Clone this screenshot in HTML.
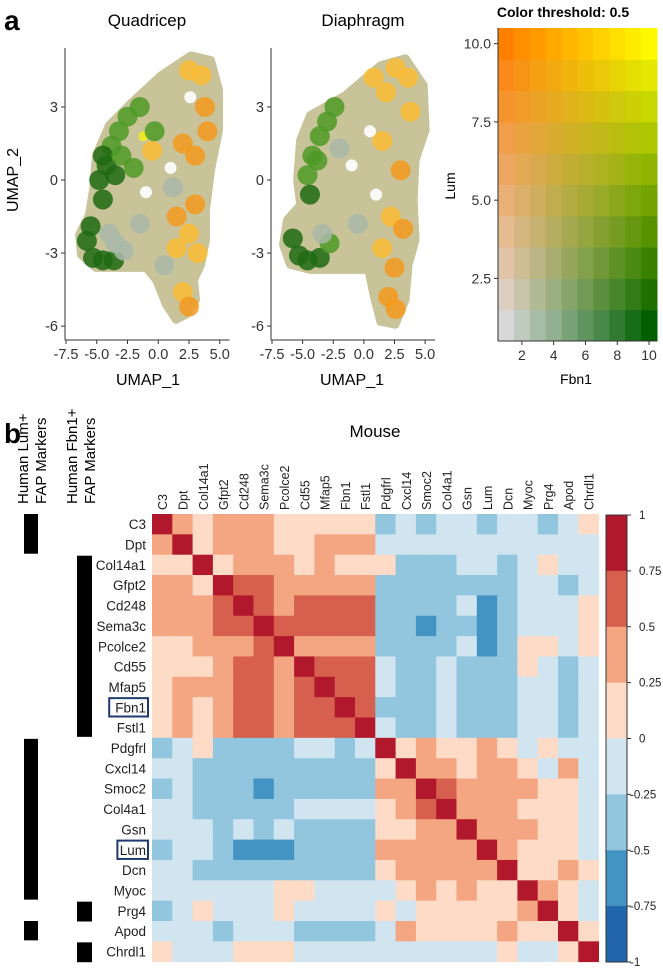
<!DOCTYPE html>
<html><head><meta charset="utf-8">
<style>
html,body{margin:0;padding:0;background:#fff;}
svg{display:block;font-family:"Liberation Sans",Arial,sans-serif;}
</style></head>
<body>
<svg id="fig" width="663" height="968" viewBox="0 0 663 968" xmlns="http://www.w3.org/2000/svg">
<text x="4" y="30" font-size="28" font-weight="bold">a</text>
<text x="147" y="26" font-size="17" text-anchor="middle">Quadricep</text>
<text x="363" y="26" font-size="17" text-anchor="middle">Diaphragm</text>
<text x="18" y="180" font-size="16" text-anchor="middle" transform="rotate(-90 18 180)">UMAP_2</text>
<text x="148" y="385" font-size="16" text-anchor="middle">UMAP_1</text>
<text x="352" y="385" font-size="16" text-anchor="middle">UMAP_1</text>
<g id="umapQ"></g>
<g id="umapD"></g>
<text x="563" y="17" font-size="14" font-weight="bold" text-anchor="middle">Color threshold: 0.5</text>
<g id="blend"></g>
<text x="455" y="186" font-size="14" text-anchor="middle" transform="rotate(-90 455 186)">Lum</text>
<text x="576" y="384" font-size="14" text-anchor="middle">Fbn1</text>

<text x="4" y="443" font-size="28" font-weight="bold">b</text>
<text font-size="15" transform="translate(28 504) rotate(-90)">Human Lum+</text>
<text font-size="15" transform="translate(46 504) rotate(-90)">FAP Markers</text>
<text font-size="15" transform="translate(77 504) rotate(-90)">Human Fbn1+</text>
<text font-size="15" transform="translate(95 504) rotate(-90)">FAP Markers</text>
<text x="375" y="437" font-size="17" text-anchor="middle">Mouse</text>
<g id="heat"></g>
<g id="cbar"></g>
</svg>
<script>
const NS="http://www.w3.org/2000/svg";
function mk(tag,attrs,parent){const e=document.createElementNS(NS,tag);for(const k in attrs)e.setAttribute(k,attrs[k]);parent.appendChild(e);return e;}

// ---------- UMAP data ----------
const umapXTicks=[-7.5,-5.0,-2.5,0.0,2.5,5.0];
const umapYTicks=[3,0,-3,-6];
const qOutlineX=[2.66,4.29,4.94,4.94,4.29,3.88,3.88,3.48,2.91,3.07,2.26,1.44,0.63,-0.18,-0.99,-3.03,-5.06,-6.28,-6.44,-5.63,-5.30,-5.06,-4.00,-2.22,0.22];
const qOutlineY=[5.12,4.92,3.69,2.05,0.41,-1.23,-2.46,-3.48,-4.10,-4.92,-5.53,-5.74,-5.12,-4.10,-3.61,-3.61,-3.61,-3.07,-2.25,-1.43,-0.41,1.02,2.25,3.16,4.30];
const dOutlineX=[1.35,3.40,4.88,5.04,4.22,4.06,4.22,3.65,3.40,2.58,1.35,0.78,0.37,-1.93,-4.39,-6.02,-6.60,-6.27,-5.20,-5.45,-5.20,-4.39,-1.52];
const dOutlineY=[4.71,5.00,3.89,2.05,0.82,-0.82,-2.46,-3.48,-4.92,-5.94,-5.82,-4.71,-3.69,-3.69,-3.69,-3.48,-2.66,-1.64,-1.02,0,1.64,2.66,3.48];
const qPtX=[-4.8,-4.5,-4.2,-3.8,-3.2,-2.5,-1.5,-4.5,-3.5,-3.0,-5.8,-5.3,-4.5,-5.5,-3.6,-3.5,-2.8,-4.0,-2.0,-1.2,2.5,3.5,3.8,2.0,3.0,1.5,2.5,1.5,3.0,2.0,2.5,4.0,-1.0,1.0,2.6,-0.5,-1.5,0.5,-0.3,1.2,3.2];
const qPtY=[0.0,-0.8,0.6,1.4,2.0,2.6,3.0,1.0,0.2,1.0,-2.5,-3.2,-3.3,-1.9,-3.3,-2.6,-2.9,-2.2,0.5,1.8,4.5,4.3,3.0,1.5,1.0,-1.5,-2.2,-2.8,-1.0,-4.6,-5.2,2.0,-0.5,0.5,3.4,1.2,-1.8,-3.5,2.0,-0.3,-3.0];
const qPtC=[0,0,0,1,1,1,1,0,0,1,0,0,0,0,0,4,4,4,1,6,3,3,2,2,2,2,3,3,2,3,2,2,5,5,5,3,4,4,1,4,3];
const dPtX=[-4.6,-4.2,-3.6,-3.0,-2.4,-4.4,-3.8,-5.8,-5.3,-4.6,-3.6,-2.8,-3.4,2.6,3.6,3.8,1.5,3.0,2.2,3.2,1.5,2.5,2.0,1.0,-1.0,0.5,2.6,-0.5,1.8,-2.0,0.8];
const dPtY=[0.2,1.0,1.8,2.4,3.0,-0.6,0.8,-2.4,-3.1,-3.3,-3.2,-2.6,-2.2,4.6,4.2,2.8,1.6,0.4,-1.5,-2.0,-2.8,-3.6,-4.8,-0.6,0.6,2.0,-5.3,-1.8,3.6,1.3,4.2];
const dPtC=[1,1,1,1,1,0,1,0,0,0,0,1,4,3,3,3,3,2,3,2,3,2,2,5,5,5,2,4,3,4,3];

const ptColors=["#1d6a12","#4e9a26","#f39a1c","#fbbd35","#a9b8a8","#ffffff","#f4f01a"];

function drawUmap(g,x0,xs,oX,oY,pX,pY,pC,tag){
  const sx=v=>x0+(v+7.5)*xs, sy=v=>180-v*24.35;
  const pts=oX.map((v,i)=>sx(v)+","+sy(oY[i])).join(" ");
  const sil=mk("polygon",{points:pts,fill:"#c9c39a",stroke:"#c9c39a","stroke-width":8,"stroke-linejoin":"round"},g);
  
  
  pX.forEach((v,i)=>{
    const c=mk("circle",{cx:sx(v),cy:sy(pY[i]),r:pC[i]===5?6:(pC[i]===6?5:10),fill:ptColors[pC[i]],opacity:pC[i]===5?0.9:0.85},g);
    
    
  });
  const axX=x0-1, axB=340;
  mk("line",{x1:axX,y1:48,x2:axX,y2:axB,stroke:"#333","stroke-width":1},g);
  mk("line",{x1:axX,y1:axB,x2:sx(5.8),y2:axB,stroke:"#333","stroke-width":1},g);
  umapXTicks.forEach(t=>{
    mk("line",{x1:sx(t),y1:axB,x2:sx(t),y2:axB+4,stroke:"#333"},g);
    const tx=mk("text",{x:sx(t),y:axB+19,"font-size":14.5,"text-anchor":"middle",fill:"#333"},g);
    tx.textContent=t.toFixed(1);
    
    
  });
  umapYTicks.forEach(t=>{
    mk("line",{x1:axX-4,y1:sy(t),x2:axX,y2:sy(t),stroke:"#333"},g);
    const tx=mk("text",{x:axX-7,y:sy(t)+5,"font-size":14.5,"text-anchor":"end",fill:"#333"},g);
    tx.textContent=String(t);
    
    
  });
}
drawUmap(document.getElementById("umapQ"),66,12.3,qOutlineX,qOutlineY,qPtX,qPtY,qPtC,"quadricep");
drawUmap(document.getElementById("umapD"),272,12.25,dOutlineX,dOutlineY,dPtX,dPtY,dPtC,"diaphragm");

// ---------- blend legend ----------
const blendLevels=[1,2,3,4,5,6,7,8,9,10];
const blendXTicks=[2,4,6,8,10];
const blendYTicks=[2.5,5.0,7.5,10.0];
(function(){
  const g=document.getElementById("blend");
  const L=498,R=657,T=28,B=341,cw=(R-L)/10,ch=(B-T)/10;
  const c00=[216,216,216],c10=[0,96,0],c01=[255,128,0],c11=[255,250,0];
  blendLevels.forEach((fx,i)=>blendLevels.forEach((ly,j)=>{
    const u=(fx-1)/9,v=(ly-1)/9;
    const col=[0,1,2].map(k=>Math.round(c00[k]*(1-u)*(1-v)+c10[k]*u*(1-v)+c01[k]*(1-u)*v+c11[k]*u*v));
    const r=mk("rect",{x:L+(fx-1)*cw,y:B-ly*ch,width:cw+0.5,height:ch+0.5,fill:`rgb(${col})`},g);
    
    
  }));
  mk("line",{x1:L,y1:T,x2:L,y2:B,stroke:"#333"},g);
  mk("line",{x1:L,y1:B,x2:R,y2:B,stroke:"#333"},g);
  blendXTicks.forEach(t=>{const x=L+(t-0.5)*cw;
    mk("line",{x1:x,y1:B,x2:x,y2:B+4,stroke:"#333"},g);
    const tx=mk("text",{x:x,y:B+19,"font-size":14,"text-anchor":"middle",fill:"#333"},g);tx.textContent=t;
    
    });
  blendYTicks.forEach(t=>{const y=B-(t-0.5)*ch;
    mk("line",{x1:L-4,y1:y,x2:L,y2:y,stroke:"#333"},g);
    const tx=mk("text",{x:L-7,y:y+5,"font-size":14,"text-anchor":"end",fill:"#333"},g);tx.textContent=t.toFixed(1);
    
    });
})();

// ---------- heatmap ----------
const genes=["C3","Dpt","Col14a1","Gfpt2","Cd248","Sema3c","Pcolce2","Cd55","Mfap5","Fbn1","Fstl1","Pdgfrl","Cxcl14","Smoc2","Col4a1","Gsn","Lum","Dcn","Myoc","Prg4","Apod","Chrdl1"];
const lumMarkers=[0,1,11,12,13,14,15,16,17,18,20];
const fbn1Markers=[2,3,4,5,6,7,8,9,10,19,21];
const corr=[
[1,.4,.1,.4,.4,.4,.1,.1,.1,.1,.1,-.4,-.1,-.4,-.1,-.1,-.4,-.1,-.1,-.4,-.1,.1],
[.4,1,.1,.4,.4,.4,.1,.1,.4,.4,.4,-.1,-.1,-.1,-.1,-.1,-.1,-.1,-.1,-.1,-.1,-.1],
[.1,.1,1,.1,.4,.4,.4,.1,.4,.1,.1,.1,-.4,-.4,-.4,-.1,-.1,-.4,-.1,.1,-.1,-.1],
[.4,.4,.1,1,.6,.6,.4,.4,.4,.4,.4,-.4,-.4,-.4,-.4,-.4,-.4,-.4,-.1,-.1,-.4,-.1],
[.4,.4,.4,.6,1,.6,.4,.6,.6,.6,.6,-.4,-.4,-.4,-.4,-.1,-.6,-.4,-.1,-.1,-.1,.1],
[.4,.4,.4,.6,.6,1,.6,.6,.6,.6,.6,-.4,-.4,-.6,-.4,-.4,-.6,-.4,-.1,-.1,-.1,.1],
[.1,.1,.4,.4,.4,.6,1,.4,.4,.4,.4,-.4,-.4,-.4,-.4,-.1,-.6,-.4,.1,.1,-.1,.1],
[.1,.1,.1,.4,.6,.6,.4,1,.6,.6,.6,-.1,-.4,-.4,-.1,-.4,-.4,-.4,.1,-.1,-.4,-.1],
[.1,.4,.4,.4,.6,.6,.4,.6,1,.6,.6,-.1,-.4,-.4,-.1,-.4,-.4,-.4,-.1,-.1,-.4,-.1],
[.1,.4,.1,.4,.6,.6,.4,.6,.6,1,.6,-.4,-.4,-.4,-.1,-.4,-.4,-.4,-.1,-.1,-.4,-.1],
[.1,.4,.1,.4,.6,.6,.4,.6,.6,.6,1,-.1,-.4,-.4,-.1,-.4,-.4,-.4,-.1,-.1,-.4,-.1],
[-.4,-.1,.1,-.4,-.4,-.4,-.4,-.1,-.1,-.4,-.1,1,.1,.4,.1,.1,.4,.1,-.1,.1,-.1,-.1],
[-.1,-.1,-.4,-.4,-.4,-.4,-.4,-.4,-.4,-.4,-.4,.1,1,.4,.4,.1,.4,.4,.1,-.1,.4,-.1],
[-.4,-.1,-.4,-.4,-.4,-.6,-.4,-.4,-.4,-.4,-.4,.4,.4,1,.6,.4,.4,.4,.4,.1,.1,-.1],
[-.1,-.1,-.4,-.4,-.4,-.4,-.4,-.1,-.1,-.1,-.1,.1,.4,.6,1,.4,.4,.4,.1,.1,.1,-.1],
[-.1,-.1,-.1,-.4,-.1,-.4,-.1,-.4,-.4,-.4,-.4,.1,.1,.4,.4,1,.4,.4,.4,.1,.1,-.1],
[-.4,-.1,-.1,-.4,-.6,-.6,-.6,-.4,-.4,-.4,-.4,.4,.4,.4,.4,.4,1,.4,.1,.1,.1,-.1],
[-.1,-.1,-.4,-.4,-.4,-.4,-.4,-.4,-.4,-.4,-.4,.1,.4,.4,.4,.4,.4,1,.1,.1,.4,.1],
[-.1,-.1,-.1,-.1,-.1,-.1,.1,.1,-.1,-.1,-.1,-.1,.1,.4,.1,.4,.1,.1,1,.4,.1,-.1],
[-.4,-.1,.1,-.1,-.1,-.1,.1,-.1,-.1,-.1,-.1,.1,-.1,.1,.1,.1,.1,.1,.4,1,.1,-.1],
[-.1,-.1,-.1,-.4,-.1,-.1,-.1,-.4,-.4,-.4,-.4,-.1,.4,.1,.1,.1,.1,.4,.1,.1,1,.1],
[.1,-.1,-.1,-.1,.1,.1,.1,-.1,-.1,-.1,-.1,-.1,-.1,-.1,-.1,-.1,-.1,.1,-.1,-.1,.1,1]];
const cbarTicks=[1,0.75,0.5,0.25,0,-0.25,-0.5,-0.75,-1];
const binColors=["#b2182b","#d6604d","#f4a582","#fddbc7","#d1e5f0","#92c5de","#4393c3","#2166ac"];
function colorOf(v){const idx=Math.min(7,Math.max(0,Math.floor((1-v)/0.25)));return binColors[idx];}

(function(){
  const g=document.getElementById("heat");
  const L=152,T=514,cw=20.3,ch=20.35;
  corr.forEach((row,i)=>row.forEach((v,j)=>{
    const r=mk("rect",{x:L+j*cw,y:T+i*ch,width:cw+0.4,height:ch+0.4,fill:colorOf(v)},g);
    
    
  }));
  genes.forEach((gn,i)=>{
    const t=mk("text",{x:146,y:T+i*ch+ch/2+5,"font-size":13.5,"text-anchor":"end",fill:"#222"},g);
    t.textContent=gn;
    
    
    const cx=L+i*cw+cw/2+5;
    const c=mk("text",{"font-size":12.5,fill:"#222",transform:`translate(${cx} 510) rotate(-90)`},g);
    c.textContent=gn;
    
    
    if(gn==="Fbn1"||gn==="Lum"){
      const w=gn.length*8.2+6;
      const b=mk("rect",{x:148-w,y:T+i*ch+1,width:w,height:ch-2,fill:"none",stroke:"#1f3a6e","stroke-width":2},g);
      
      
    }
  });
  lumMarkers.forEach(i=>{
    const b=mk("rect",{x:24,y:T+i*ch,width:14,height:ch+0.5,fill:"#000"},g);
    
    
  });
  fbn1Markers.forEach(i=>{
    const b=mk("rect",{x:77,y:T+i*ch,width:15,height:ch+0.5,fill:"#000"},g);
    
    
  });
  [[24,T+2*ch],[24,T+11*ch],[24,T+19*ch],[24,T+21*ch],[77,T+2*ch],[77,T+11*ch],[77,T+19*ch],[77,T+21*ch]].forEach(p=>mk("rect",{x:p[0],y:p[1]-1,width:16,height:2,fill:"#fff"},g));

  const cb=document.getElementById("cbar");
  const cL=606,cT=515,cH=447,cW=21,seg=cH/8;
  binColors.forEach((col,k)=>{
    const r=mk("rect",{x:cL,y:cT+k*seg,width:cW,height:seg+0.5,fill:col},cb);
    
    
  });
  mk("rect",{x:cL,y:cT,width:cW,height:cH,fill:"none",stroke:"#333","stroke-width":1},cb);
  cbarTicks.forEach(t=>{
    const y=cT+(1-t)/2*cH;
    mk("line",{x1:cL+cW,y1:y,x2:cL+cW+4,y2:y,stroke:"#333"},cb);
    const tx=mk("text",{x:t<0?cL+cW+3:cL+cW+12,y:y+4,"font-size":11.5,fill:"#222"},cb);
    tx.textContent=String(t);
    
    
  });
})();
</script>
</body></html>
